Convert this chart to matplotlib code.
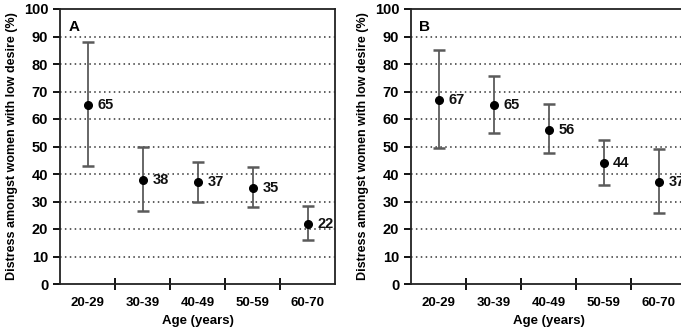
import matplotlib
matplotlib.use("Agg")
import matplotlib.pyplot as plt
import numpy as np

plt.rcParams['font.family'] = ['Liberation Sans', 'DejaVu Sans']
plt.rcParams['font.weight'] = 'bold'

categories = ["20-29", "30-39", "40-49", "50-59", "60-70"]
a_values = [65, 38, 37, 35, 22]
a_low = [43, 26.5, 30, 28, 16]
a_high = [88, 50, 44.5, 42.5, 28.5]
b_values = [67, 65, 56, 44, 37]
b_low = [49.5, 55, 47.5, 36, 26]
b_high = [85, 75.5, 65.5, 52.5, 49]
panel_labels = ["A", "B"]
ylabel = "Distress amongst women with low desire (%)"
xlabel = "Age (years)"

fig = plt.figure(figsize=(6.81, 3.35), dpi=100)
axA = fig.add_axes([60/681, 51/335, 275/681, 275/335])
axB = fig.add_axes([411/681, 51/335, 275/681, 275/335])

def draw(ax, vals, lo, hi, label):
    x = np.arange(len(categories))
    vals = np.array(vals); lo = np.array(lo); hi = np.array(hi)
    ax.errorbar(x, vals, yerr=[vals - lo, hi - vals], fmt='none',
                ecolor='#5a5a5a', elinewidth=1.3, capsize=4, capthick=1.8, zorder=3)
    ax.plot(x, vals, 'o', color='black', markersize=5.5, zorder=4)
    for xi, v in zip(x, vals):
        ax.annotate(f"{v}", (xi, v), xytext=(7, 0), textcoords='offset points',
                    ha='left', va='center', fontsize=10.5, fontweight='bold',
                    color='#111111')
    ax.set_xlim(-0.5, len(categories) - 0.5)
    ax.set_ylim(0, 100)
    ax.set_yticks(np.arange(0, 101, 10))
    ax.set_xticks(x)
    ax.set_xticklabels(categories, fontsize=9.5, fontweight='bold')
    ax.tick_params(axis='x', which='major', length=0, pad=9)
    ax.set_xticks(np.arange(0.5, len(categories) - 0.5, 1), minor=True)
    ax.tick_params(axis='x', which='minor', direction='inout', length=9, width=1.3)
    ax.tick_params(axis='y', direction='out', length=5, width=1.3, labelsize=10.5)
    for t in ax.get_yticklabels():
        t.set_fontweight('bold')
    for yv in range(10, 100, 10):
        ax.axhline(yv, color='#333333', linestyle=(0, (1, 2.2)), linewidth=1.1, zorder=1)
    for s in ax.spines.values():
        s.set_linewidth(1.3)
        s.set_color('#222222')
    ax.set_ylabel(ylabel, fontsize=9, fontweight='bold', labelpad=4)
    ax.set_xlabel(xlabel, fontsize=9.5, fontweight='bold', labelpad=5)
    ax.text(0.03, 0.96, label, transform=ax.transAxes, fontsize=11,
            fontweight='bold', va='top', ha='left')

draw(axA, a_values, a_low, a_high, panel_labels[0])
draw(axB, b_values, b_low, b_high, panel_labels[1])

fig.savefig("out.png", dpi=100)
